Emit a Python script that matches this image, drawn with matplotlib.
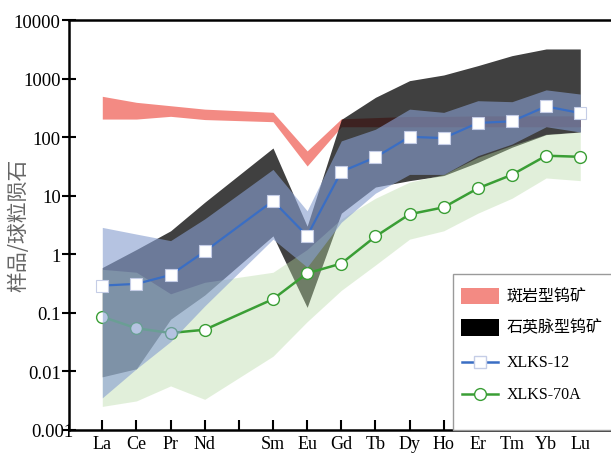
import numpy as np
import matplotlib
matplotlib.use("Agg")
import matplotlib.pyplot as plt
from matplotlib.patches import Rectangle
from matplotlib.lines import Line2D

# ── REE pattern data (chondrite-normalised) ─────────────────────────────────────
tick_labels = ["La", "Ce", "Pr", "Nd", "", "Sm", "Eu", "Gd", "Tb", "Dy",
               "Ho", "Er", "Tm", "Yb", "Lu"]
elements = ["La", "Ce", "Pr", "Nd", "Sm", "Eu", "Gd", "Tb", "Dy",
            "Ho", "Er", "Tm", "Yb", "Lu"]

xlks12 = [0.29, 0.31, 0.44, 1.11, 8.1, 2.05, 25.6, 45, 101, 96, 174, 186, 334, 257]
xlks70a = [0.085, 0.054, 0.045, 0.051, 0.17, 0.47, 0.69, 2.0, 4.8, 6.3, 13.3, 22.7, 48, 46]

# envelopes
porphyry_hi = [497, 392, 343, 300, 265, 58, 205, 215, 225, 225, 230, 230, 230, 230]
porphyry_lo = [203, 203, 226, 199, 183, 32, 150, 150, 150, 150, 150, 150, 150, 150]
quartz_hi = [0.59, 1.2, 2.5, 7.7, 65, 3.0, 200, 477, 920, 1150, 1660, 2460, 3200, 3200]
quartz_lo = [0.008, 0.011, 0.077, 0.2, 2.05, 0.123, 5, 14, 18, 22, 37, 67, 110, 122]
xlks12_hi = [2.86, 2.2, 1.7, 4.0, 28, 5.5, 86, 136, 300, 264, 418, 402, 640, 543]
xlks12_lo = [0.0035, 0.011, 0.032, 0.13, 1.8, 0.6, 3.5, 11, 23, 23, 48, 76, 150, 122]
xlks70a_hi = [0.55, 0.49, 0.21, 0.33, 0.49, 1.2, 4, 9, 17, 23, 45, 72, 112, 122]
xlks70a_lo = [0.0025, 0.0031, 0.0056, 0.0033, 0.018, 0.07, 0.24, 0.65, 1.8, 2.5, 5, 9, 20, 18]

y_ticks = [0.001, 0.01, 0.1, 1, 10, 100, 1000, 10000]
y_tick_labels = ["0.001", "0.01", "0.1", "1", "10", "100", "1000", "10000"]

legend_labels = ["斑岩型钨矿", "石英脉型钨矿", "XLKS-12", "XLKS-70A"]

# ── colours ─────────────────────────────────────────────────────────────────────
C_PINK = "#f38a83"
C_BLUE_BAND = "#889fd0"
C_GREEN_BAND = "#b6d9a3"
C_BLUE = "#3a6ec4"
C_GREEN = "#3a9e35"
CJK = ["Noto Sans CJK SC", "DejaVu Sans"]

plt.rcParams["font.family"] = ["Liberation Serif", "DejaVu Serif"]

W, H = 611, 456
fig = plt.figure(figsize=(W / 100, H / 100), dpi=100)
ax = fig.add_axes([69 / W, 1 - 430.7 / H, 1 - 69 / W, (430.7 - 21) / H])

x = np.array([tick_labels.index(e) + 1 for e in elements])

ax.fill_between(x, porphyry_lo, porphyry_hi, color=C_PINK, lw=0, zorder=1)
ax.fill_between(x, quartz_lo, quartz_hi, color="black", alpha=0.75, lw=0, zorder=2)
ax.fill_between(x, xlks70a_lo, xlks70a_hi, color=C_GREEN_BAND, alpha=0.4, lw=0, zorder=3)
ax.plot(x, xlks70a, color=C_GREEN, lw=1.8, marker="o", ms=8.5,
        mfc="white", mec=C_GREEN, mew=1.0, zorder=4)
ax.fill_between(x, xlks12_lo, xlks12_hi, color=C_BLUE_BAND, alpha=0.62, lw=0, zorder=5)
ax.plot(x, xlks12, color=C_BLUE, lw=1.6, marker="s", ms=8,
        mfc="white", mec="#c5cde6", mew=0.8, zorder=6)

ax.set_yscale("log")
ax.set_ylim(0.001, 10000)
ax.set_xlim(0.025, 15.9)
ax.set_yticks(y_ticks)
# bottom label is placed by hand, it sits slightly into the axis line
ax.set_yticklabels([""] + y_tick_labels[1:])
ax.annotate(y_tick_labels[0], xy=(0, y_ticks[0]), xycoords=("axes fraction", "data"),
            xytext=(3, -1), textcoords="offset points", ha="right", va="center",
            fontsize=13.5, zorder=0, annotation_clip=False)
ax.minorticks_off()
ax.set_xticks(np.arange(1, len(tick_labels) + 1))
ax.set_xticklabels(tick_labels)

ax.tick_params(axis="y", direction="inout", length=10, width=1.5, labelsize=13.5, pad=1)
ax.tick_params(axis="x", direction="in", length=7.5, width=1.5, labelsize=13, pad=4)
for side in ["left", "bottom", "top"]:
    ax.spines[side].set_linewidth(1.8)
    ax.spines[side].set_zorder(8)
ax.spines["right"].set_visible(False)

fig.text(18 / W, 1 - 225 / H, "样品/球粒陨石", rotation=90, ha="center", va="center",
         fontsize=15, color="#666666", family=CJK)

# ── legend box ──────────────────────────────────────────────────────────────────
def px(xp, yp):
    return xp / W, 1 - yp / H

fig.patches.append(Rectangle(px(452.7, 430.7), (W - 452.7 + 5) / W, (430.7 - 275) / H,
                             transform=fig.transFigure, facecolor="white",
                             edgecolor="#9a9a9a", lw=1.0, zorder=10))
rows = [296.7, 328.3, 363.3, 395]
fig.patches.append(Rectangle(px(460.7, 305), 38.6 / W, 16 / H, transform=fig.transFigure,
                             facecolor=C_PINK, edgecolor="none", zorder=11))
fig.patches.append(Rectangle(px(460.7, 336.7), 38.6 / W, 16.7 / H, transform=fig.transFigure,
                             facecolor="black", edgecolor="none", zorder=11))
for yr, col, mk, mec in [(rows[2], C_BLUE, "s", "#c5cde6"), (rows[3], C_GREEN, "o", C_GREEN)]:
    x0, y0 = px(461.7, yr)
    x1, _ = px(498.3, yr)
    fig.lines.append(Line2D([x0, x1], [y0, y0], transform=fig.transFigure,
                            color=col, lw=1.8, zorder=11))
    fig.lines.append(Line2D([(x0 + x1) / 2], [y0], transform=fig.transFigure,
                            marker=mk, ms=8.5, mfc="white", mec=mec, mew=1.0,
                            ls="none", zorder=12))
for i, (yr, txt) in enumerate(zip(rows, legend_labels)):
    tx, ty = px(507, yr)
    fam = CJK if i < 2 else ["Liberation Serif", "DejaVu Serif"]
    fig.text(tx, ty, txt, ha="left", va="center", fontsize=11.5, zorder=12, family=fam)

fig.savefig("out.png", dpi=100)
